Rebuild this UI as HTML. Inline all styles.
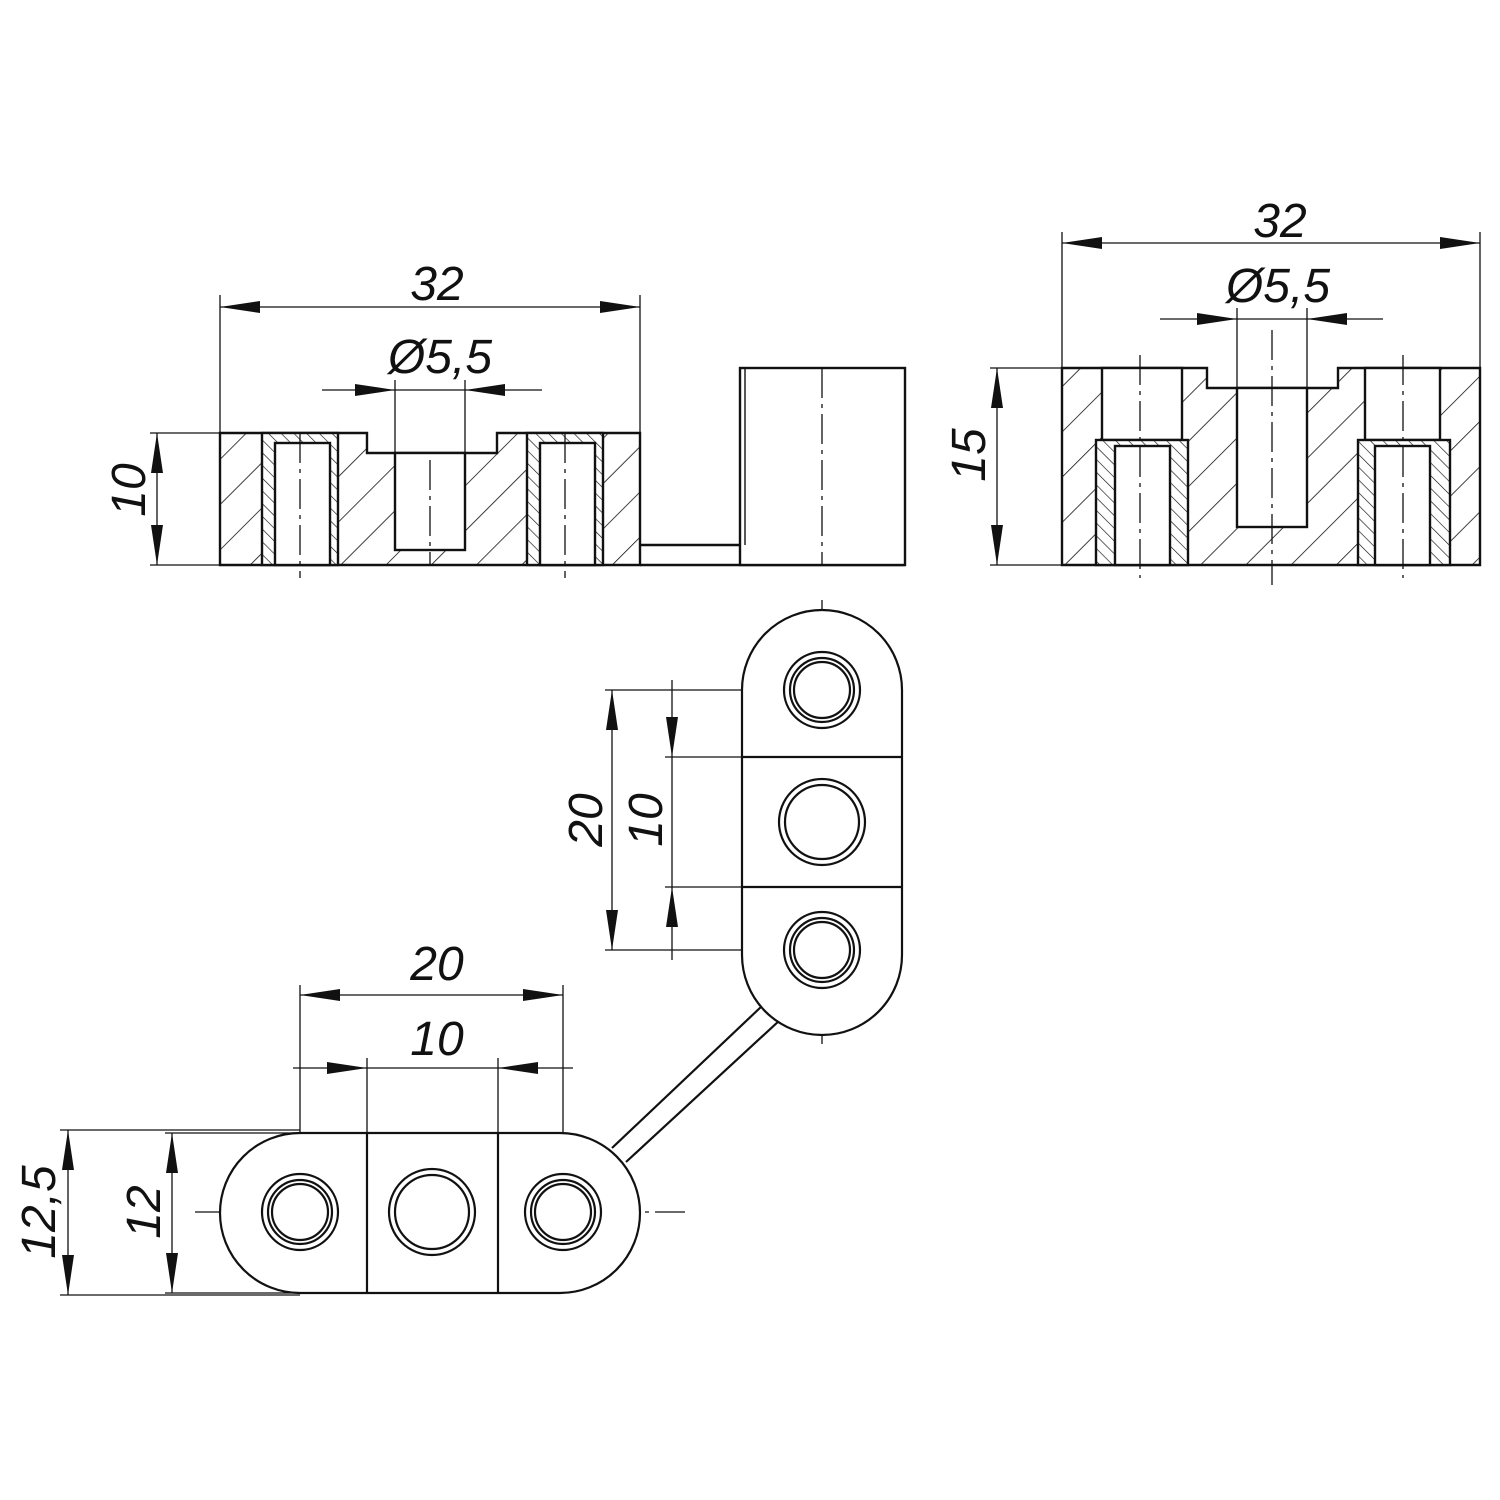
<!DOCTYPE html>
<html><head><meta charset="utf-8"><style>html,body{margin:0;background:#fff}svg{display:block}</style></head><body>
<svg width="1500" height="1500" viewBox="0 0 1500 1500" xmlns="http://www.w3.org/2000/svg">
<defs>
<pattern id="h" patternUnits="userSpaceOnUse" width="32" height="32" patternTransform="rotate(45)">
<rect width="32" height="32" fill="#fff"/><line x1="0" y1="0" x2="0" y2="32" stroke="#111" stroke-width="1.6"/></pattern>
<pattern id="h2" patternUnits="userSpaceOnUse" width="9" height="9" patternTransform="rotate(-45)">
<rect width="9" height="9" fill="#fff"/><line x1="0" y1="0" x2="0" y2="9" stroke="#111" stroke-width="1.3"/></pattern>
<marker id="a" viewBox="0 0 40 12" refX="40" refY="6" markerWidth="40" markerHeight="12" markerUnits="userSpaceOnUse" orient="auto"><path d="M0,0 L40,6 L0,12 Z" fill="#111"/></marker>
<marker id="b" viewBox="0 0 40 12" refX="0" refY="6" markerWidth="40" markerHeight="12" markerUnits="userSpaceOnUse" orient="auto"><path d="M40,0 L0,6 L40,12 Z" fill="#111"/></marker>
</defs>
<g fill="none" stroke="#111" stroke-width="2.4">
<path d="M220,433 H367 V453 H497 V433 H640 V565 H220 Z" fill="url(#h)"/>
<rect x="395" y="453" width="70" height="97" fill="#fff"/>
<rect x="262" y="433" width="76" height="132" fill="url(#h2)"/>
<rect x="275" y="443" width="55" height="122" fill="#fff"/>
<rect x="527" y="433" width="76" height="132" fill="url(#h2)"/>
<rect x="540" y="443" width="55" height="122" fill="#fff"/>
<line x1="640" y1="545" x2="775" y2="545"/><line x1="775" y1="545" x2="775" y2="565"/>
<line x1="640" y1="565" x2="905" y2="565"/>
<rect x="740" y="368" width="165" height="197" fill="#fff"/>
<line x1="745" y1="368" x2="745" y2="545" stroke-width="1.4"/>
<path d="M1062,368 H1207 V388 H1338 V368 H1480 V565 H1062 Z" fill="url(#h)"/>
<rect x="1237" y="388" width="70" height="139" fill="#fff"/>
<rect x="1102" y="368" width="80" height="72" fill="#fff"/>
<rect x="1365" y="368" width="75" height="72" fill="#fff"/>
<rect x="1096" y="440" width="92" height="125" fill="url(#h2)"/>
<rect x="1115" y="446" width="55" height="119" fill="#fff"/>
<rect x="1358" y="440" width="92" height="125" fill="url(#h2)"/>
<rect x="1375" y="446" width="55" height="119" fill="#fff"/>
</g>
<g stroke="#111" stroke-width="1.3" stroke-dasharray="30,6,4,6" fill="none">
<line x1="300" y1="433" x2="300" y2="578"/><line x1="565" y1="433" x2="565" y2="578"/>
<line x1="430" y1="460" x2="430" y2="565"/><line x1="822" y1="368" x2="822" y2="565"/>
<line x1="1140" y1="355" x2="1140" y2="578"/><line x1="1403" y1="355" x2="1403" y2="578"/>
<line x1="1272" y1="330" x2="1272" y2="585"/>
<line x1="822" y1="600" x2="822" y2="1045"/>
<line x1="778" y1="690" x2="866" y2="690"/><line x1="772" y1="822" x2="872" y2="822"/><line x1="778" y1="950" x2="866" y2="950"/>
<line x1="195" y1="1212" x2="685" y2="1212"/>
<line x1="300" y1="1165" x2="300" y2="1260"/><line x1="432" y1="1160" x2="432" y2="1265"/><line x1="563" y1="1165" x2="563" y2="1260"/>
</g>
<g fill="none" stroke="#111" stroke-width="2.2">
<line x1="612" y1="1148" x2="762" y2="1006"/><line x1="626" y1="1162" x2="780" y2="1020"/>
<rect x="742" y="610" width="160" height="425" rx="80" fill="#fff"/>
<line x1="742" y1="757" x2="902" y2="757"/><line x1="742" y1="887" x2="902" y2="887"/>
<circle cx="822" cy="690" r="38"/><circle cx="822" cy="690" r="32"/><circle cx="822" cy="690" r="28"/>
<circle cx="822" cy="822" r="43"/><circle cx="822" cy="822" r="37"/>
<circle cx="822" cy="950" r="38"/><circle cx="822" cy="950" r="32"/><circle cx="822" cy="950" r="28"/>
<rect x="220" y="1133" width="420" height="160" rx="80" fill="#fff"/>
<line x1="367" y1="1133" x2="367" y2="1293"/><line x1="498" y1="1133" x2="498" y2="1293"/>
<circle cx="300" cy="1212" r="38"/><circle cx="300" cy="1212" r="32"/><circle cx="300" cy="1212" r="28"/>
<circle cx="432" cy="1212" r="43"/><circle cx="432" cy="1212" r="37"/>
<circle cx="563" cy="1212" r="38"/><circle cx="563" cy="1212" r="32"/><circle cx="563" cy="1212" r="28"/>
</g>
<g stroke="#111" stroke-width="1.3" fill="none">
<line x1="220" y1="295" x2="220" y2="433"/><line x1="640" y1="295" x2="640" y2="433"/>
<line x1="220" y1="307" x2="640" y2="307" marker-start="url(#b)" marker-end="url(#a)"/>
<line x1="395" y1="380" x2="395" y2="453"/><line x1="465" y1="380" x2="465" y2="453"/>
<line x1="322" y1="390" x2="395" y2="390" marker-end="url(#a)"/><line x1="542" y1="390" x2="465" y2="390" marker-end="url(#a)"/>
<line x1="395" y1="390" x2="465" y2="390"/>
<line x1="150" y1="433" x2="220" y2="433"/><line x1="150" y1="565" x2="220" y2="565"/>
<line x1="157" y1="433" x2="157" y2="565" marker-start="url(#b)" marker-end="url(#a)"/>
<line x1="1062" y1="232" x2="1062" y2="368"/><line x1="1480" y1="232" x2="1480" y2="368"/>
<line x1="1062" y1="243" x2="1480" y2="243" marker-start="url(#b)" marker-end="url(#a)"/>
<line x1="1237" y1="308" x2="1237" y2="388"/><line x1="1307" y1="308" x2="1307" y2="388"/>
<line x1="1160" y1="319" x2="1237" y2="319" marker-end="url(#a)"/><line x1="1383" y1="319" x2="1307" y2="319" marker-end="url(#a)"/>
<line x1="1237" y1="319" x2="1307" y2="319"/>
<line x1="990" y1="368" x2="1062" y2="368"/><line x1="990" y1="565" x2="1062" y2="565"/>
<line x1="997" y1="368" x2="997" y2="565" marker-start="url(#b)" marker-end="url(#a)"/>
<line x1="605" y1="690" x2="742" y2="690"/><line x1="605" y1="950" x2="742" y2="950"/>
<line x1="665" y1="757" x2="742" y2="757"/><line x1="665" y1="887" x2="742" y2="887"/>
<line x1="612" y1="690" x2="612" y2="950" marker-start="url(#b)" marker-end="url(#a)"/>
<line x1="672" y1="680" x2="672" y2="757" marker-end="url(#a)"/>
<line x1="672" y1="960" x2="672" y2="887" marker-end="url(#a)"/><line x1="672" y1="757" x2="672" y2="887"/>
<line x1="300" y1="985" x2="300" y2="1133"/><line x1="563" y1="985" x2="563" y2="1133"/>
<line x1="367" y1="1058" x2="367" y2="1133"/><line x1="498" y1="1058" x2="498" y2="1133"/>
<line x1="300" y1="995" x2="563" y2="995" marker-start="url(#b)" marker-end="url(#a)"/>
<line x1="293" y1="1068" x2="367" y2="1068" marker-end="url(#a)"/><line x1="573" y1="1068" x2="498" y2="1068" marker-end="url(#a)"/>
<line x1="367" y1="1068" x2="498" y2="1068"/>
<line x1="60" y1="1130" x2="300" y2="1130"/><line x1="60" y1="1295" x2="300" y2="1295"/>
<line x1="165" y1="1133" x2="300" y2="1133"/><line x1="165" y1="1293" x2="300" y2="1293"/>
<line x1="172" y1="1133" x2="172" y2="1293" marker-start="url(#b)" marker-end="url(#a)"/>
<line x1="68" y1="1130" x2="68" y2="1295" marker-start="url(#b)" marker-end="url(#a)"/>
</g>
<g font-family="Liberation Sans, sans-serif" font-style="italic" font-size="48" fill="#111" text-anchor="middle">
<text x="437" y="300">32</text>
<text x="440" y="373">Ø5,5</text>
<text x="1280" y="237">32</text>
<text x="1278" y="302">Ø5,5</text>
<text x="437" y="980">20</text>
<text x="437" y="1055">10</text>
<text transform="translate(145,490) rotate(-90)">10</text>
<text transform="translate(985,455) rotate(-90)">15</text>
<text transform="translate(602,820) rotate(-90)">20</text>
<text transform="translate(662,820) rotate(-90)">10</text>
<text transform="translate(160,1212) rotate(-90)">12</text>
<text transform="translate(55,1212) rotate(-90)">12,5</text>
</g>
</svg>
</body></html>
